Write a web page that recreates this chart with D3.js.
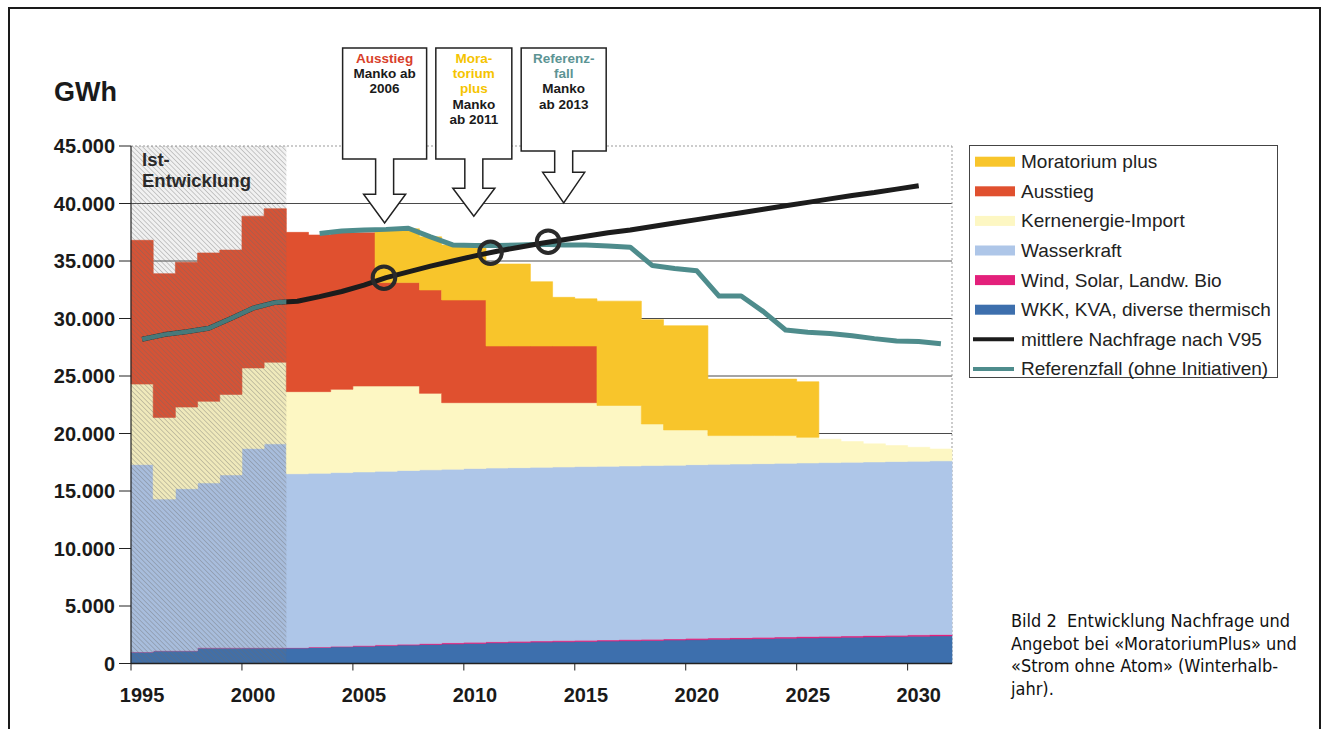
<!DOCTYPE html>
<html><head><meta charset="utf-8">
<script src="https://cdn.jsdelivr.net/npm/d3@7"></script>
<style>
body{margin:0;background:#fff;}
svg{display:block;font-family:"Liberation Sans",Arial,sans-serif;}
</style></head><body>
<svg id="chart" width="1325" height="729"></svg>
<script>
// ---------- DATA ----------
const years = d3.range(1995, 2032); // 1995..2031
const wkk = [1000,1100,1100,1350,1350,1350,1350,1350,1400,1450,1500,1550,1600,1650,1700,1750,1800,1830,1860,1890,1920,1950,1980,2010,2040,2070,2100,2130,2160,2190,2220,2250,2280,2310,2340,2370,2400];
const wind = [10,10,10,10,10,20,20,30,40,50,60,70,80,90,100,100,100,100,100,100,100,100,100,100,100,120,120,120,120,120,120,120,120,120,120,120,120];
const wasserkraft = [16290,13190,14090,14340,15040,17330,17730,15120,15100,15100,15100,15100,15100,15100,15100,15100,15100,15100,15100,15100,15100,15100,15100,15100,15100,15100,15100,15100,15100,15100,15100,15100,15100,15100,15100,15100,15100];
const kernImport = [7000,7100,7100,7100,7000,7000,7100,7140,7100,7240,7470,7410,7350,6650,5780,5730,5680,5650,5620,5590,5560,5290,5260,3620,3070,3020,2500,2470,2440,2410,2230,2030,1800,1570,1390,1210,1030];
const ausstieg = [12500,12500,12600,12900,12550,13200,13350,13850,13620,13620,13330,8990,8990,8990,8930,8930,4930,4930,4930,4930,4930,0,0,0,0,0,0,0,0,0,0,0,0,0,0,0,0];
const moratorium = [0,0,0,0,0,0,0,0,0,0,0,4630,4680,4620,4790,4690,7130,7130,5590,4230,4100,9070,9070,9070,9060,9060,4910,4910,4910,4910,4830,0,0,0,0,0,0];
const nachfrage = [28200,28600,28850,29150,30000,30900,31400,31500,31900,32350,32900,33550,34050,34550,35000,35450,35850,36200,36550,36850,37150,37450,37700,38000,38300,38600,38900,39200,39500,39800,40100,40400,40700,40950,41250,41550,null];
const referenzfall = [null,null,null,null,null,null,null,null,37400,37600,37700,37750,37850,37100,36400,36350,36350,36400,36450,36400,36400,36300,36200,34600,34350,34150,31950,31950,30600,29000,28800,28700,28500,28250,28050,28000,27800];
const yTicks = [0,5000,10000,15000,20000,25000,30000,35000,40000,45000];
const xTickYears = [1995,2000,2005,2010,2015,2020,2025,2030];
const histEnd = 2002; // Ist-Entwicklung 1995..2001
const mankoYears = [2006.4, 2011.2, 2013.8];
const mankoValues = [33550, 35720, 36680];
const seriesKeys = ["wkk","wind","wasserkraft","kernImport","ausstieg","moratorium"];
const seriesColors = {wkk:"#3d6fad",wind:"#e3207b",wasserkraft:"#aec6e8",kernImport:"#fdf7c3",ausstieg:"#e0502f",moratorium:"#f8c52b"};
const legendItems = [
  {label:"Moratorium plus", key:"moratorium"},
  {label:"Ausstieg", key:"ausstieg"},
  {label:"Kernenergie-Import", key:"kernImport"},
  {label:"Wasserkraft", key:"wasserkraft"},
  {label:"Wind, Solar, Landw. Bio", key:"wind"},
  {label:"WKK, KVA, diverse thermisch", key:"wkk"},
  {label:"mittlere Nachfrage nach V95", line:"#1c1c1c"},
  {label:"Referenzfall (ohne Initiativen)", line:"#4e8c8c"}
];
const annotations = [
  {year:2006.43, half:42, boxBottom:159, headBase:194.3, tipValue:38300,
   lines:[["Ausstieg","#d8402a"],["Manko ab","#1a1a1a"],["2006","#1a1a1a"]]},
  {year:2010.45, half:38, boxBottom:159, headBase:188.3, tipValue:38900,
   lines:[["Mora-","#f5c400"],["torium","#f5c400"],["plus","#f5c400"],["Manko","#1a1a1a"],["ab 2011","#1a1a1a"]]},
  {year:2014.5, half:42.5, boxBottom:151, headBase:172.3, tipValue:40050,
   lines:[["Referenz-","#5c9494"],["fall","#5c9494"],["Manko","#1a1a1a"],["ab 2013","#1a1a1a"]]}
];
const captionLines = ["Bild 2  Entwicklung Nachfrage und","Angebot bei «MoratoriumPlus» und","«Strom ohne Atom» (Winterhalb-","jahr)."];

// ---------- CHART ----------
const svg = d3.select("#chart");
const x = d3.scaleLinear().domain([1995, 2032]).range([131, 952]);
const y = d3.scaleLinear().domain([0, 45000]).range([663.5, 146]);
const fmt = d3.formatLocale({decimal:",", thousands:".", grouping:[3], currency:["",""]}).format(",d");

// outer frame
svg.append("rect").attr("x",9).attr("y",8).attr("width",1311).attr("height",760)
  .attr("fill","none").attr("stroke","#1a1a1a").attr("stroke-width",2);

const defs = svg.append("defs");
const pat = defs.append("pattern").attr("id","hatch").attr("patternUnits","userSpaceOnUse")
  .attr("width",3.4).attr("height",3.4).attr("patternTransform","rotate(-45)");
pat.append("line").attr("x1",0).attr("y1",0).attr("x2",0).attr("y2",3.4)
  .attr("stroke","#6a6a6a").attr("stroke-width",1.3).attr("stroke-opacity",0.5);
defs.append("clipPath").attr("id","histClip").append("rect")
  .attr("x",x(1995)).attr("y",y(45000)).attr("width",x(histEnd)-x(1995)).attr("height",y(0)-y(45000));

// gridlines
svg.append("g").selectAll("line").data(yTicks.filter(v=>v>0 && v<45000)).join("line")
  .attr("x1",x(1995)).attr("x2",x(2032)).attr("y1",d=>y(d)).attr("y2",d=>y(d))
  .attr("stroke","#4a4a4a").attr("stroke-width",1);
svg.append("line").attr("x1",x(1995)).attr("x2",x(2032)).attr("y1",y(45000)).attr("y2",y(45000))
  .attr("stroke","#999").attr("stroke-dasharray","2,2");
svg.append("line").attr("x1",x(2032)).attr("x2",x(2032)).attr("y1",y(45000)).attr("y2",y(0))
  .attr("stroke","#999").attr("stroke-dasharray","2,2");

// stacked step areas
const rows = years.map((yr,i)=>({year:yr, wkk:wkk[i], wind:wind[i], wasserkraft:wasserkraft[i], kernImport:kernImport[i], ausstieg:ausstieg[i], moratorium:moratorium[i]}));
const stacked = d3.stack().keys(seriesKeys)(rows);
const area = d3.area().defined(p=>p.v>0).x(p=>x(p.x)).y0(p=>y(p.y0)).y1(p=>y(p.y1));
svg.append("g").selectAll("path").data(stacked).join("path")
  .attr("d", s => area(s.flatMap(d => [
      {x:d.data.year, y0:d[0], y1:d[1], v:d[1]-d[0]},
      {x:d.data.year+1, y0:d[0], y1:d[1], v:d[1]-d[0]}])))
  .attr("fill", s=>seriesColors[s.key]).attr("stroke", s=>seriesColors[s.key]).attr("stroke-width",0.6);

// lines
const line = d3.line().defined(d=>d.v!=null).x(d=>x(d.year+0.5)).y(d=>y(d.v));
const refData = years.map((yr,i)=>({year:yr, v:referenzfall[i]}));
const demData = years.map((yr,i)=>({year:yr, v:nachfrage[i]}));
svg.append("path").attr("d", line(refData)).attr("fill","none").attr("stroke","#4e8c8c")
  .attr("stroke-width",5).attr("stroke-linejoin","round");
svg.append("path").attr("d", line(demData)).attr("fill","none").attr("stroke","#1c1c1c")
  .attr("stroke-width",5).attr("stroke-linejoin","round");
svg.append("path").attr("d", line(demData)).attr("fill","none").attr("stroke","#3f7b7c")
  .attr("stroke-width",4.5).attr("clip-path","url(#histClip)");

// Ist-Entwicklung overlay
svg.append("rect").attr("x",x(1995)).attr("y",y(45000)).attr("width",x(histEnd)-x(1995)).attr("height",y(0)-y(45000))
  .attr("fill","rgba(120,120,120,0.10)");
svg.append("rect").attr("x",x(1995)).attr("y",y(45000)).attr("width",x(histEnd)-x(1995)).attr("height",y(0)-y(45000))
  .attr("fill","url(#hatch)");
svg.append("text").attr("x",142).attr("y",166).attr("font-weight","bold").attr("font-size",18.5).attr("fill","#2a2a2a").text("Ist-");
svg.append("text").attr("x",142).attr("y",187).attr("font-weight","bold").attr("font-size",18.5).attr("fill","#2a2a2a").text("Entwicklung");

// manko circles
svg.append("g").selectAll("circle").data(mankoYears).join("circle")
  .attr("cx",d=>x(d)).attr("cy",(d,i)=>y(mankoValues[i])).attr("r",11.3)
  .attr("fill","none").attr("stroke","#2a2a2a").attr("stroke-width",4);

// axes
svg.append("line").attr("x1",x(1995)).attr("x2",x(1995)).attr("y1",y(45000)).attr("y2",y(0)).attr("stroke","#222").attr("stroke-width",1.2);
svg.append("line").attr("x1",x(1995)).attr("x2",x(2032)).attr("y1",y(0)).attr("y2",y(0)).attr("stroke","#222").attr("stroke-width",1.5);
const yAx = svg.append("g");
yAx.selectAll("line").data(yTicks).join("line").attr("x1",x(1995)-12).attr("x2",x(1995)).attr("y1",d=>y(d)).attr("y2",d=>y(d)).attr("stroke","#222");
yAx.selectAll("text").data(yTicks).join("text").attr("x",115).attr("y",d=>y(d)+7)
  .attr("text-anchor","end").attr("font-weight","bold").attr("font-size",20).attr("fill","#1a1a1a").text(d=>fmt(d));
const xAx = svg.append("g");
xAx.selectAll("line").data(xTickYears).join("line").attr("x1",d=>x(d)).attr("x2",d=>x(d)).attr("y1",y(0)).attr("y2",y(0)+7).attr("stroke","#222");
xAx.selectAll("text").data(xTickYears).join("text").attr("x",d=>x(d+0.5)).attr("y",702)
  .attr("text-anchor","middle").attr("font-weight","bold").attr("font-size",20).attr("fill","#1a1a1a").text(d=>d);
svg.append("text").attr("x",54).attr("y",101).attr("font-weight","bold").attr("font-size",27).attr("fill","#1a1a1a").text("GWh");

// annotation arrows
annotations.forEach(a=>{
  const cx = x(a.year), top = 48, tip = y(a.tipValue);
  const p = d3.path();
  p.moveTo(cx-a.half, top); p.lineTo(cx+a.half, top); p.lineTo(cx+a.half, a.boxBottom);
  p.lineTo(cx+9, a.boxBottom); p.lineTo(cx+9, a.headBase); p.lineTo(cx+21, a.headBase);
  p.lineTo(cx, tip); p.lineTo(cx-21, a.headBase); p.lineTo(cx-9, a.headBase);
  p.lineTo(cx-9, a.boxBottom); p.lineTo(cx-a.half, a.boxBottom); p.closePath();
  svg.append("path").attr("d",p.toString()).attr("fill","#fff").attr("stroke","#222").attr("stroke-width",1.5);
  a.lines.forEach((l,i)=>{
    svg.append("text").attr("x",cx).attr("y",62.7+i*15.3).attr("text-anchor","middle")
      .attr("font-weight","bold").attr("font-size",13.5).attr("fill",l[1]).text(l[0]);
  });
});

// legend
const lg = svg.append("g");
lg.append("rect").attr("x",969.5).attr("y",145.5).attr("width",308).attr("height",232).attr("fill","#fff").attr("stroke","#444");
legendItems.forEach((it,i)=>{
  const cy = 161.7 + i*29.6;
  if (it.key) {
    lg.append("rect").attr("x",975).attr("y",cy-5).attr("width",40).attr("height",10).attr("fill",seriesColors[it.key]);
  } else {
    lg.append("line").attr("x1",973).attr("x2",1014).attr("y1",cy).attr("y2",cy).attr("stroke",it.line).attr("stroke-width",4);
  }
  lg.append("text").attr("x",1021).attr("y",cy+6.5).attr("font-size",19).attr("fill","#222").text(it.label);
});

// caption
svg.append("g").selectAll("text").data(captionLines).join("text")
  .attr("x",1011).attr("y",(d,i)=>627+i*22.7)
  .attr("font-family","'DejaVu Sans Condensed','DejaVu Sans',sans-serif").attr("font-stretch","condensed")
  .style("white-space","pre")
  .attr("font-size",18).attr("fill","#111").text(d=>d);
</script>
</body></html>
